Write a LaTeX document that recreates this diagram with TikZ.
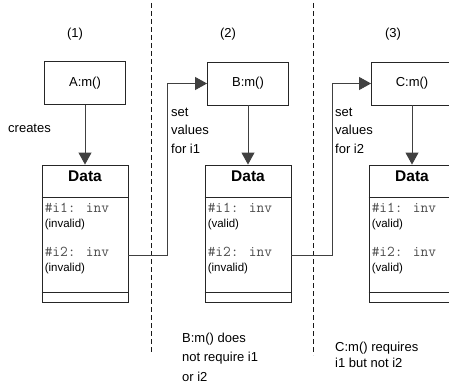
\documentclass[tikz,border=0pt]{standalone}
\usepackage{fontspec}
\setmainfont{Liberation Sans}
\usetikzlibrary{arrows.meta}
\begin{document}
\begin{tikzpicture}[x=1pt,y=-1pt,
  lbl/.style={font=\fontsize{13}{18.5}\selectfont, inner sep=0pt, align=left},
  method/.style={draw=black!85, line width=0.9pt, minimum width=81pt, minimum height=43pt, inner sep=0pt, font=\fontsize{13}{15}\selectfont},
  databox/.style={draw=black!85, line width=0.9pt, minimum width=86pt, minimum height=137pt, inner sep=0pt},
  attr/.style={font=\fontsize{15}{16}\ttfamily, text=black!70, inner sep=0pt, anchor=west},
  state/.style={font=\fontsize{11.5}{13}\selectfont, inner sep=0pt, anchor=west},
  conn/.style={draw=black!75, line width=0.9pt, -{Triangle[length=12pt,width=13pt]}},
  sep/.style={draw=black!90, line width=0.9pt, dash pattern=on 5pt off 3pt}]
\useasboundingbox (0,0) rectangle (449,385);
\clip (0,0) rectangle (449,385);

% column numbers
\node[lbl] (n1) at (75,34) {(1)};
\node[lbl] (n2) at (228,34) {(2)};
\node[lbl] (n3) at (393,34) {(3)};

% separators
\coordinate (s1t) at (151,3); \coordinate (s1b) at (151,352);
\coordinate (s2t) at (313,3); \coordinate (s2b) at (313,355);
\draw[sep] (s1t) -- (s1b);
\draw[sep] (s2t) -- (s2b);

% method boxes
\node[method] (A) at (85,83) {A:m()};
\node[method] (B) at (248,83.5) {B:m()};
\node[method] (C) at (412,83.5) {C:m()};

% data boxes
\foreach \n/\x/\sa/\sb in {D1/85/invalid/invalid, D2/248/valid/invalid, D3/412/valid/valid}{
  \node[databox] (\n) at (\x,233.5) {};
  \draw[draw=black!85, line width=0.9pt] ([yshift=-33pt]\n.north west) -- ([yshift=-33pt]\n.north east);
  \draw[draw=black!85, line width=1.4pt] ([yshift=10pt]\n.south west) -- ([yshift=10pt]\n.south east);
  \node[font=\fontsize{15.5}{17}\bfseries\selectfont, inner sep=0pt] (\n h) at ([yshift=-12pt]\n.north) {Data};
  \node[attr] (\n a) at ([xshift=3pt,yshift=-43pt]\n.north west) {\#i1: inv};
  \node[state] (\n b) at ([xshift=3pt,yshift=-60pt]\n.north west) {(\sa)};
  \node[attr] (\n c) at ([xshift=3pt,yshift=-87pt]\n.north west) {\#i2: inv};
  \node[state] (\n d) at ([xshift=3pt,yshift=-104pt]\n.north west) {(\sb)};
}

% creation arrows
\draw[conn] (A.south) -- (D1.north);
\draw[conn] (B.south) -- (D2.north);
\draw[conn] (C.south) -- (D3.north);

% hand-over connectors
\draw[conn] ([yshift=-21.5pt]D1.east) -- ++(39,0) |- (B.west);
\draw[conn] ([yshift=-21.5pt]D2.east) -- ++(41,0) |- (C.west);

% labels
\node[lbl, anchor=west] (cr) at (8,128) {creates};
\node[lbl, anchor=west] (sv1) at (171,130.5) {set\\values\\for i1};
\node[lbl, anchor=west] (sv2) at (335,130.5) {set\\values\\for i2};
\node[lbl, anchor=west, font=\fontsize{13}{19.5}\selectfont] (nb) at (182,357) {B:m() does\\not require i1\\or i2};
\node[lbl, anchor=west, font=\fontsize{13}{16.5}\selectfont] (nc) at (335,355) {C:m() requires\\i1 but not i2};
\end{tikzpicture}
\end{document}
